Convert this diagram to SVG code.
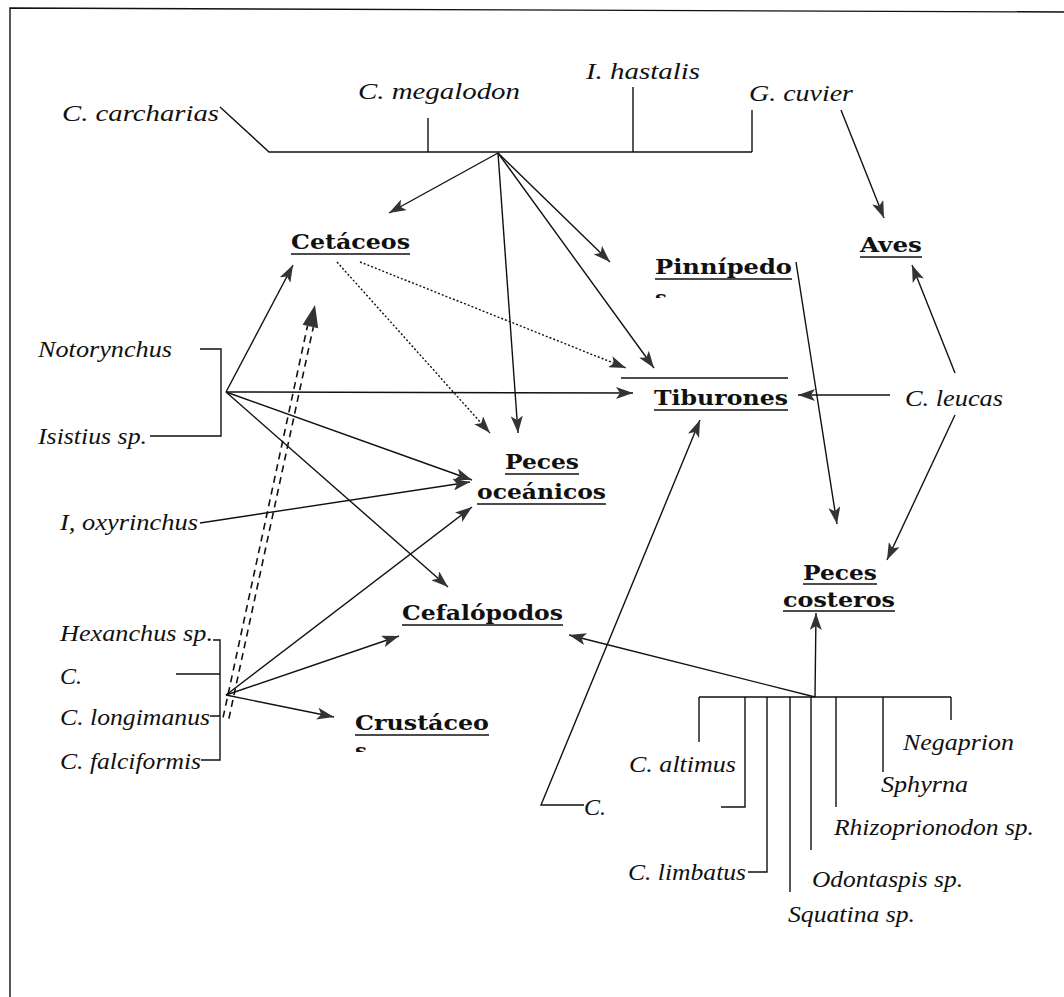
<svg xmlns="http://www.w3.org/2000/svg" width="1064" height="997" viewBox="0 0 1064 997">
<defs>
<marker id="ah" markerUnits="userSpaceOnUse" markerWidth="18" markerHeight="12" refX="17" refY="6" orient="auto">
<path d="M0,0 L17,6 L0,12 L4,6 Z" fill="#333"/>
</marker>
<clipPath id="c1"><rect x="645" y="289" width="40" height="9"/></clipPath>
<clipPath id="c2"><rect x="345" y="744" width="40" height="8"/></clipPath>
</defs>
<style>
.it{font-family:"Liberation Serif",serif;font-style:italic;font-size:24px;fill:#111}
.bd{font-family:"DejaVu Serif",serif;font-weight:bold;font-size:21px;fill:#111}
.ln{stroke:#111;stroke-width:1.4;fill:none}
.ar{stroke:#111;stroke-width:1.4;fill:none;marker-end:url(#ah)}
.dt{stroke:#111;stroke-width:1.4;fill:none;stroke-dasharray:2 2;marker-end:url(#ah)}
.ul{stroke:#111;stroke-width:1.5}
</style>
<rect width="1064" height="997" fill="#fff"/>
<g id="frame"><path class="ln" d="M10,997 L10,8 L1064,12" stroke-width="2"/></g>

<g id="connectors">
<path class="ln" d="M220,107 L269,152 L752,152 M428,118 L428,152 M633,87 L633,152 M752,110 L752,152"/>
<path class="ar" d="M498,153 L389,213"/>
<path class="ar" d="M498,153 L518,433"/>
<path class="ar" d="M498,153 L610,262"/>
<path class="ar" d="M498,153 L654,368"/>
<path class="ar" d="M841,110 L884,218"/>
<path class="dt" d="M337,262 L490,433"/>
<path class="dt" d="M360,262 L626,368"/>
<path class="ln" d="M200,349 L221,349 L221,436 L150,436"/>
<path class="ar" d="M226,392 L293,265"/>
<path class="ar" d="M226,392 L633,393"/>
<path class="ar" d="M226,392 L472,480"/>
<path class="ar" d="M226,392 L448,587"/>
<path class="ar" d="M200,523 L470,482"/>
<path class="ar" d="M890,395 L798,395"/>
<path class="ar" d="M955,373 L912,265"/>
<path class="ar" d="M955,415 L887,560"/>
<path class="ar" d="M796,262 L837,524"/>
<path class="ln" d="M213,640 L220,640 L220,760 L201,760 M176,674 L220,674 M210,716 L220,716"/>
<path class="ar" d="M226,695 L472,507"/>
<path class="ar" d="M226,695 L399,636"/>
<path class="ar" d="M226,695 L334,717"/>
<g stroke="#111" stroke-width="1.6" stroke-dasharray="7 5" fill="none">
<path d="M223.1,717.4 L307.5,325.9"/>
<path d="M228.9,718.6 L313.3,327.1"/>
</g>
<path d="M315,305 L318.2,328.2 L302.6,324.8 Z" fill="#333"/>
<path class="ln" d="M699,697 L951,697 M699,697 L699,742 M745,697 L745,807 L721,807 M767,697 L767,872 L748,872 M790,697 L790,892 M811,697 L811,850 M836,697 L836,807 M883,697 L883,772 M951,697 L951,720"/>
<path class="ar" d="M815,697 L816,613"/>
<path class="ar" d="M815,697 L569,635"/>
<path class="ar" d="M584,805 L541,805 L700,420"/>
</g>

<g id="n-carcharias"><text class="it" x="62" y="121" textLength="157" lengthAdjust="spacingAndGlyphs">C. carcharias</text></g>
<g id="n-megalodon"><text class="it" x="358" y="99" textLength="162" lengthAdjust="spacingAndGlyphs">C. megalodon</text></g>
<g id="n-hastalis"><text class="it" x="586" y="79" textLength="114" lengthAdjust="spacingAndGlyphs">I. hastalis</text></g>
<g id="n-cuvier"><text class="it" x="749" y="101" textLength="104" lengthAdjust="spacingAndGlyphs">G. cuvier</text></g>
<g id="n-notorynchus"><text class="it" x="38" y="357" textLength="134" lengthAdjust="spacingAndGlyphs">Notorynchus</text></g>
<g id="n-isistius"><text class="it" x="38" y="444" textLength="109" lengthAdjust="spacingAndGlyphs">Isistius sp.</text></g>
<g id="n-oxyrinchus"><text class="it" x="60" y="530" textLength="138" lengthAdjust="spacingAndGlyphs">I, oxyrinchus</text></g>
<g id="n-hexanchus"><text class="it" x="60" y="641" textLength="153" lengthAdjust="spacingAndGlyphs">Hexanchus sp.</text></g>
<g id="n-c1"><text class="it" x="60" y="684">C.</text></g>
<g id="n-longimanus"><text class="it" x="60" y="725" textLength="150" lengthAdjust="spacingAndGlyphs">C. longimanus</text></g>
<g id="n-falciformis"><text class="it" x="60" y="769" textLength="141" lengthAdjust="spacingAndGlyphs">C. falciformis</text></g>
<g id="n-leucas"><text class="it" x="905" y="406" textLength="98" lengthAdjust="spacingAndGlyphs">C. leucas</text></g>
<g id="n-altimus"><text class="it" x="629" y="772" textLength="107" lengthAdjust="spacingAndGlyphs">C. altimus</text></g>
<g id="n-c2"><text class="it" x="584" y="815">C.</text></g>
<g id="n-limbatus"><text class="it" x="628" y="880" textLength="118" lengthAdjust="spacingAndGlyphs">C. limbatus</text></g>
<g id="n-negaprion"><text class="it" x="903" y="750" textLength="111" lengthAdjust="spacingAndGlyphs">Negaprion</text></g>
<g id="n-sphyrna"><text class="it" x="881" y="792" textLength="87" lengthAdjust="spacingAndGlyphs">Sphyrna</text></g>
<g id="n-rhizoprionodon"><text class="it" x="834" y="835" textLength="200" lengthAdjust="spacingAndGlyphs">Rhizoprionodon sp.</text></g>
<g id="n-odontaspis"><text class="it" x="812" y="887" textLength="151" lengthAdjust="spacingAndGlyphs">Odontaspis sp.</text></g>
<g id="n-squatina"><text class="it" x="788" y="922" textLength="127" lengthAdjust="spacingAndGlyphs">Squatina sp.</text></g>

<g id="n-cetaceos"><text class="bd" x="291" y="249" textLength="119" lengthAdjust="spacingAndGlyphs">Cetáceos</text><line class="ul" x1="291" y1="254" x2="410" y2="254"/></g>
<g id="n-pinnipedos"><text class="bd" x="655" y="274" textLength="137" lengthAdjust="spacingAndGlyphs">Pinnípedo</text><line class="ul" x1="655" y1="279" x2="792" y2="279"/><text class="bd" x="655" y="305" clip-path="url(#c1)">s</text></g>
<g id="n-aves"><text class="bd" x="860" y="252" textLength="62" lengthAdjust="spacingAndGlyphs">Aves</text><line class="ul" x1="860" y1="257" x2="922" y2="257"/></g>
<g id="n-tiburones"><line class="ul" x1="621" y1="378" x2="788" y2="378"/><text class="bd" x="654" y="405" textLength="134" lengthAdjust="spacingAndGlyphs">Tiburones</text><line class="ul" x1="654" y1="410" x2="788" y2="410"/></g>
<g id="n-peces-oceanicos"><text class="bd" x="505" y="469" textLength="74" lengthAdjust="spacingAndGlyphs">Peces</text><line class="ul" x1="505" y1="474" x2="579" y2="474"/><text class="bd" x="477" y="499" textLength="129" lengthAdjust="spacingAndGlyphs">oceánicos</text><line class="ul" x1="477" y1="504" x2="606" y2="504"/></g>
<g id="n-cefalopodos"><text class="bd" x="402" y="620" textLength="161" lengthAdjust="spacingAndGlyphs">Cefalópodos</text><line class="ul" x1="402" y1="625" x2="563" y2="625"/></g>
<g id="n-crustaceos"><text class="bd" x="355" y="730" textLength="134" lengthAdjust="spacingAndGlyphs">Crustáceo</text><line class="ul" x1="355" y1="735" x2="489" y2="735"/><text class="bd" x="355" y="758" clip-path="url(#c2)">s</text></g>
<g id="n-peces-costeros"><text class="bd" x="803" y="580" textLength="74" lengthAdjust="spacingAndGlyphs">Peces</text><line class="ul" x1="803" y1="584" x2="877" y2="584"/><text class="bd" x="783" y="607" textLength="112" lengthAdjust="spacingAndGlyphs">costeros</text><line class="ul" x1="783" y1="611" x2="895" y2="611"/></g>
</svg>
